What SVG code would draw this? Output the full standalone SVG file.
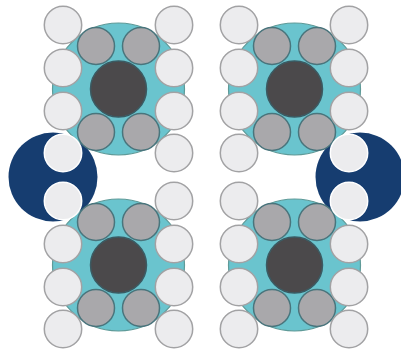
<svg xmlns="http://www.w3.org/2000/svg" width="401" height="352" viewBox="0 0 401 352">
<style>
.t{fill:#6ac4ce;stroke:#5f9a98;stroke-width:1.2}
.d{fill:#4b4a4c;stroke:#3a5a62;stroke-width:1.5}
.g{fill:#a9a8ab;stroke:#4a747c;stroke-width:1.5}
.w{fill:#ececee;stroke:#a2a2a4;stroke-width:1.5}
.b{fill:#143c70}
.h{fill:#ececee;stroke:#fff;stroke-width:1.5}
.soft{filter:url(#soft)}
</style>
<defs>
<filter id="soft" x="0" y="0" width="100%" height="100%" filterUnits="userSpaceOnUse"><feGaussianBlur stdDeviation="0.5"/></filter>
<g id="core">
<ellipse class="t" cx="0" cy="0" rx="66" ry="66"/>
<circle class="d" cx="0" cy="0" r="28"/>
<circle class="g" cx="-22.500" cy="-43" r="18.500"/>
<circle class="g" cx="22.500" cy="-43" r="18.500"/>
<circle class="g" cx="-22.500" cy="43" r="18.500"/>
<circle class="g" cx="22.500" cy="43" r="18.500"/>
</g>
</defs>
<g class="soft">
<g id="blue-left"><circle class="b" cx="53" cy="177" r="44.500"/></g>
<g id="blue-right"><circle class="b" cx="360" cy="177" r="44.500"/></g>
<g id="cluster-top-left">
<use href="#core" x="118.500" y="89"/>
<circle class="w" cx="63" cy="25" r="18.700"/><circle class="w" cx="63" cy="68" r="18.700"/><circle class="w" cx="63" cy="111" r="18.700"/><circle class="h" cx="63" cy="153" r="18.700"/>
<circle class="w" cx="174" cy="25" r="18.700"/><circle class="w" cx="174" cy="68" r="18.700"/><circle class="w" cx="174" cy="111" r="18.700"/><circle class="w" cx="174" cy="153" r="18.700"/>
</g>
<g id="cluster-top-right">
<use href="#core" x="294.500" y="89"/>
<circle class="w" cx="239" cy="25" r="18.700"/><circle class="w" cx="239" cy="68" r="18.700"/><circle class="w" cx="239" cy="111" r="18.700"/><circle class="w" cx="239" cy="153" r="18.700"/>
<circle class="w" cx="349" cy="25" r="18.700"/><circle class="w" cx="349" cy="68" r="18.700"/><circle class="w" cx="349" cy="111" r="18.700"/><circle class="h" cx="349" cy="153" r="18.700"/>
</g>
<g id="cluster-bottom-left">
<use href="#core" x="118.500" y="265"/>
<circle class="h" cx="63" cy="201" r="18.700"/><circle class="w" cx="63" cy="244" r="18.700"/><circle class="w" cx="63" cy="287" r="18.700"/><circle class="w" cx="63" cy="329" r="18.700"/>
<circle class="w" cx="174" cy="201" r="18.700"/><circle class="w" cx="174" cy="244" r="18.700"/><circle class="w" cx="174" cy="287" r="18.700"/><circle class="w" cx="174" cy="329" r="18.700"/>
</g>
<g id="cluster-bottom-right">
<use href="#core" x="294.500" y="265"/>
<circle class="w" cx="239" cy="201" r="18.700"/><circle class="w" cx="239" cy="244" r="18.700"/><circle class="w" cx="239" cy="287" r="18.700"/><circle class="w" cx="239" cy="329" r="18.700"/>
<circle class="h" cx="349" cy="201" r="18.700"/><circle class="w" cx="349" cy="244" r="18.700"/><circle class="w" cx="349" cy="287" r="18.700"/><circle class="w" cx="349" cy="329" r="18.700"/>
</g>
</g>
<g id="connectors"/>
</svg>
